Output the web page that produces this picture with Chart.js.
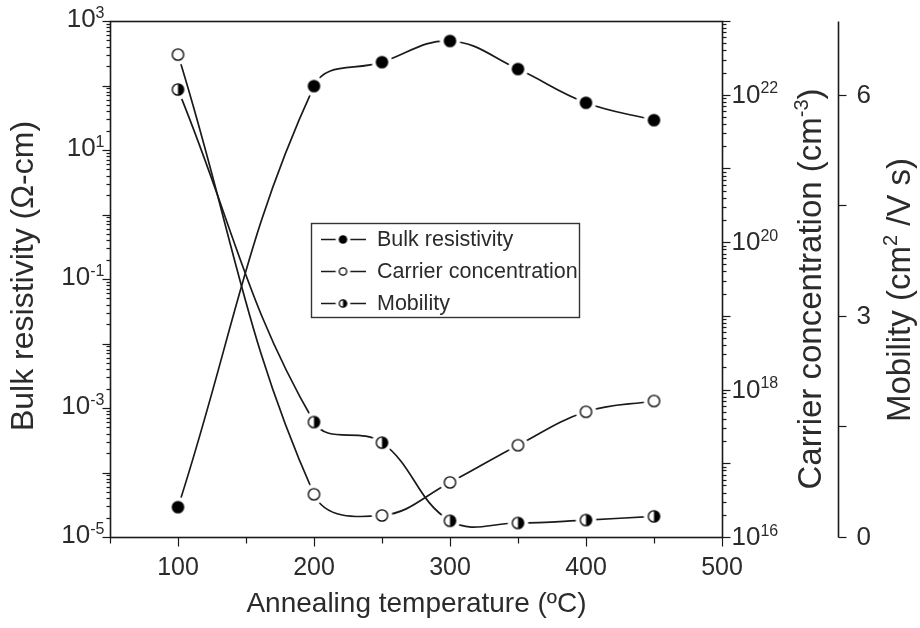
<!DOCTYPE html>
<html>
<head>
<meta charset="utf-8">
<script src="https://cdn.jsdelivr.net/npm/chart.js@4"></script>
<style>
  body { margin: 0; background: #fff; }
  canvas { display: block; }
</style>
</head>
<body>
<canvas id="annealing" width="920" height="628"></canvas>
<script>
// values
var temps = [100, 200, 250, 300, 350, 400, 450];
var resistivity = [2.9e-5, 98, 230, 490, 180, 54, 29];
var carrier = [3.5e22, 3.8e16, 1.96e16, 5.5e16, 1.76e17, 5.0e17, 7.0e17];
var mobility = [6.07, 1.56, 1.28, 0.22, 0.19, 0.23, 0.28];

var xTicks = [100, 200, 300, 400, 500];
var resExponents = [-5, -3, -1, 1, 3];
var carrierExponents = [16, 18, 20, 22];
var mobilityTicks = [0, 3, 6];
var seriesNames = ['Bulk resistivity', 'Carrier concentration', 'Mobility'];

var FONT = '"Liberation Sans", Arial, sans-serif';
var INK = '#1a1a1a';
var TEXT = '#2b2b2b';

function makeMarker(kind, r, halo) {
    var c = document.createElement('canvas');
    var s = Math.ceil(2 * (r + halo) + 2);
    c.width = s; c.height = s;
    var g = c.getContext('2d');
    var m = s / 2;
    g.fillStyle = '#fff';
    g.beginPath(); g.arc(m, m, r + halo, 0, Math.PI * 2); g.fill();
    g.lineWidth = 1.3;
    g.strokeStyle = '#000';
    if (kind == 'filled') {
        g.fillStyle = '#000';
        g.beginPath(); g.arc(m, m, r, 0, Math.PI * 2); g.fill();
    } else if (kind == 'open') {
        g.beginPath(); g.arc(m, m, r - 0.6, 0, Math.PI * 2); g.stroke();
    } else {
        g.fillStyle = '#000';
        g.beginPath(); g.arc(m, m, r - 0.6, -Math.PI / 2, Math.PI / 2); g.closePath(); g.fill();
        g.beginPath(); g.arc(m, m, r - 0.6, 0, Math.PI * 2); g.stroke();
    }
    return c;
}

var kinds = ['filled', 'open', 'half'];
var markers = kinds.map(function (k) { return makeMarker(k, 6.3, 4); });
var legendMarkers = kinds.map(function (k) { return makeMarker(k, 4.3, 3); });

// text with superscripts: parts = [[text, isSup], ...]
function rich(ctx, parts, x, y, align, size, rise) {
    var supSize = Math.round(size * 0.62);
    var w = 0;
    rise = rise || 0.26;
    parts.forEach(function (p) {
        ctx.font = (p[1] ? supSize : size) + 'px ' + FONT;
        w += ctx.measureText(p[0]).width;
    });
    var cx = align == 'right' ? x - w : (align == 'center' ? x - w / 2 : x);
    ctx.textBaseline = 'middle';
    ctx.textAlign = 'left';
    parts.forEach(function (p) {
        ctx.font = (p[1] ? supSize : size) + 'px ' + FONT;
        ctx.fillText(p[0], cx, p[1] ? y - size * rise : y);
        cx += ctx.measureText(p[0]).width;
    });
}

function line(ctx, x1, y1, x2, y2) {
    ctx.beginPath(); ctx.moveTo(x1, y1); ctx.lineTo(x2, y2); ctx.stroke();
}

function logTicks(ctx, scale, lo, hi, x, dir) {
    for (var e = lo; e < hi; e++) {
        for (var k = 1; k < 10; k++) {
            var py = Math.round(scale.getPixelForValue(k * Math.pow(10, e))) + 0.5;
            line(ctx, x, py, x + dir * (k == 1 ? 8 : 4), py);
        }
    }
}

function vtitle(ctx, parts, x, y, size) {
    ctx.save();
    ctx.translate(x, y);
    ctx.rotate(-Math.PI / 2);
    rich(ctx, parts, 0, 0, 'center', size, 0.3);
    ctx.restore();
}

var axesPlugin = {
    id: 'axesPlugin',
    afterDraw: function (chart) {
        var ctx = chart.ctx;
        var a = chart.chartArea;
        var sx = chart.scales.x, sy = chart.scales.y, sc = chart.scales.yc, sm = chart.scales.ym;
        var L = Math.round(a.left) + 0.5, R = Math.round(a.right) + 0.5;
        var T = Math.round(a.top) + 0.5, B = Math.round(a.bottom) + 0.5;
        var M = 838.5;

        ctx.save();
        ctx.strokeStyle = INK;
        ctx.fillStyle = TEXT;
        ctx.lineWidth = 1.6;
        ctx.strokeRect(L, T, R - L, B - T);
        line(ctx, M, T, M, B);

        ctx.lineWidth = 1.2;
        // x ticks
        for (var t = 50; t <= 500; t += 50) {
            var px = Math.round(sx.getPixelForValue(t)) + 0.5;
            line(ctx, px, B, px, B + (t % 100 == 0 ? 9 : 6));
        }
        xTicks.forEach(function (t) {
            rich(ctx, [[String(t), false]], sx.getPixelForValue(t), B + 31, 'center', 25);
        });

        // left log axis
        logTicks(ctx, sy, -5, 3, L, -1);
        line(ctx, L, T, L - 8, T);
        resExponents.forEach(function (e) {
            rich(ctx, [['10', false], [String(e), true]], L - 6, sy.getPixelForValue(Math.pow(10, e)) - 1, 'right', 26);
        });

        // right carrier axis
        logTicks(ctx, sc, 16, 23, R, 1);
        line(ctx, R, T, R + 8, T);
        carrierExponents.forEach(function (e) {
            rich(ctx, [['10', false], [String(e), true]], R + 9, sc.getPixelForValue(Math.pow(10, e)) + 1, 'left', 26);
        });

        // mobility axis
        for (var v = 0; v <= 6; v += 1.5) {
            var my = Math.round(sm.getPixelForValue(v)) + 0.5;
            line(ctx, M, my, M + 8, my);
        }
        mobilityTicks.forEach(function (v) {
            rich(ctx, [[String(v), false]], M + 18, sm.getPixelForValue(v) + 1, 'left', 26);
        });

        // axis titles
        rich(ctx, [['Annealing temperature (\u00baC)', false]], (L + R) / 2, 604, 'center', 28);
        vtitle(ctx, [['Bulk resistivity (\u03A9-cm)', false]], 24, 276, 32);
        vtitle(ctx, [['Carrier concentration (cm', false], ['-3', true], [')', false]], 812, 289, 33);
        vtitle(ctx, [['Mobility (cm', false], ['2', true], [' /V s)', false]], 901, 290, 33);

        // legend box
        ctx.fillStyle = '#fff';
        ctx.fillRect(311, 223, 268, 94);
        ctx.lineWidth = 1.4;
        ctx.strokeStyle = '#333';
        ctx.strokeRect(311.5, 223.5, 268, 94);
        ctx.strokeStyle = INK;
        ctx.lineWidth = 1.6;
        seriesNames.forEach(function (name, i) {
            var ry = 239 + i * 32;
            line(ctx, 321, ry + 0.5, 366, ry + 0.5);
            var mk = legendMarkers[i];
            ctx.drawImage(mk, 343 - mk.width / 2, ry + 0.5 - mk.height / 2);
            ctx.fillStyle = TEXT;
            rich(ctx, [[name, false]], 377, ry + 1, 'left', 21.5);
        });
        ctx.restore();
    }
};

function points(values) {
    return temps.map(function (t, i) { return { x: t, y: values[i] }; });
}

function series(i, values, axis) {
    return {
        label: seriesNames[i],
        data: points(values),
        yAxisID: axis,
        borderColor: INK,
        borderWidth: 1.7,
        tension: 0.4,
        fill: false,
        pointStyle: markers[i],
        pointRadius: 6
    };
}

var annealingChart = new Chart(document.getElementById('annealing'), {
    type: 'line',
    data: {
        datasets: [
            series(0, resistivity, 'y'),
            series(1, carrier, 'yc'),
            series(2, mobility, 'ym')
        ]
    },
    options: {
        responsive: false,
        animation: false,
        layout: {
            padding: { left: 110, top: 21, right: 198, bottom: 91 }
        },
        plugins: {
            legend: { display: false },
            tooltip: { enabled: false }
        },
        scales: {
            x: { type: 'linear', min: 50, max: 500, display: false },
            y: { type: 'logarithmic', min: 1e-5, max: 1e3, display: false },
            yc: { type: 'logarithmic', min: 1e16, max: 1e23, display: false },
            ym: { type: 'linear', min: 0, max: 7, display: false }
        }
    },
    plugins: [axesPlugin]
});
</script>
</body>
</html>
